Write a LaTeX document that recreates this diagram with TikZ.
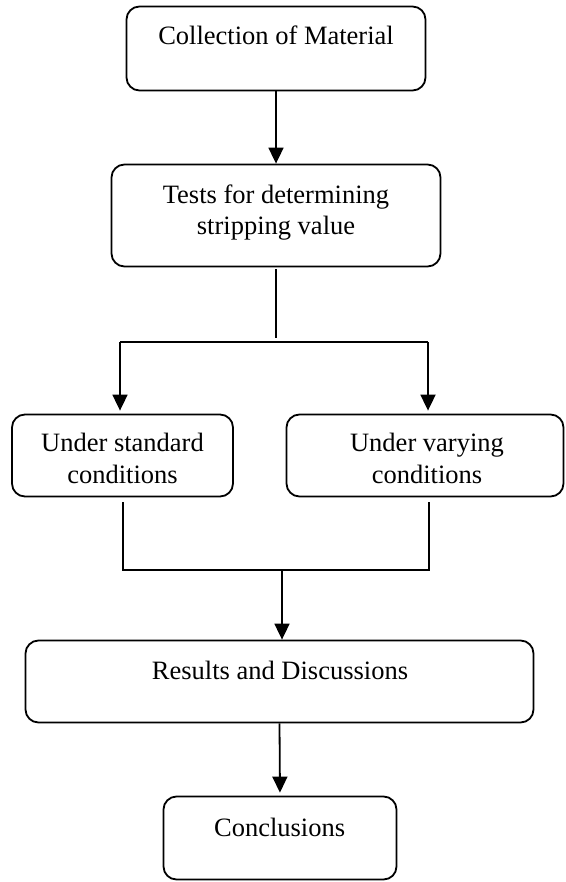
\documentclass[tikz,border=0pt]{standalone}
\usepackage{fontspec}
\setmainfont{Liberation Serif}
\usetikzlibrary{arrows.meta}
\begin{document}
\begin{tikzpicture}[x=1pt,y=-1pt,
  box/.style={draw, line width=1.8pt, rounded corners=13pt, inner sep=0pt},
  txt/.style={inner sep=0pt, anchor=base, align=center, font=\fontsize{26.5}{31.7}\selectfont},
  arr/.style={line width=1.8pt, -{Triangle[width=15pt,length=16pt]}},
  ln/.style={line width=1.8pt}]
\useasboundingbox (0,0) rectangle (565,882);
% boxes
\node[box, minimum width=299pt, minimum height=84pt] (b1) at (276,48.5) {};
\node[box, minimum width=329pt, minimum height=102pt] (b2) at (276,215.5) {};
\node[box, minimum width=221pt, minimum height=82pt] (b3) at (122.5,455.5) {};
\node[box, minimum width=277pt, minimum height=82pt] (b4) at (425,455.5) {};
\node[box, minimum width=508pt, minimum height=82pt] (b5) at (279.5,681.5) {};
\node[box, minimum width=233pt, minimum height=83pt] (b6) at (280,838) {};
% texts (anchor base = baseline of the last line)
\node[txt] (t1) at (276,44.5) {Collection of Material};
\node[txt] (t2) at (276,235) {Tests for determining\\stripping value};
\node[txt] (t3) at (122.5,483) {Under standard\\conditions};
\node[txt] (t4) at (427,483) {Under varying\\conditions};
\node[txt] (t5) at (280,679) {Results and Discussions};
\node[txt] (t6) at (279.6,836) {Conclusions};
% connectors
\draw[arr] (b1.south) -- (b2.north);
\coordinate (s2) at (276,338);
\coordinate (jl) at (120,342);
\coordinate (jr) at (428,342);
\draw[ln, shorten <=2pt] (b2.south) -- (s2);
\draw[ln] (jl) -- (jr);
\draw[arr, shorten >=3pt] (jl) -- (jl |- b3.north);
\draw[arr, shorten >=3pt] (jr) -- (jr |- b4.north);
\coordinate (ml) at (123,570);
\coordinate (mr) at (429,570);
\coordinate (mc) at (282,570);
\draw[ln, shorten <=5pt, shorten >=5pt] (b3.south -| ml) -- (ml) -- (mr) -- (b4.south -| mr);
\draw[arr] (mc) -- (b5.north -| mc);
\draw[arr, shorten >=3pt] (b5.south) -- (b6.north);
\end{tikzpicture}
\end{document}
